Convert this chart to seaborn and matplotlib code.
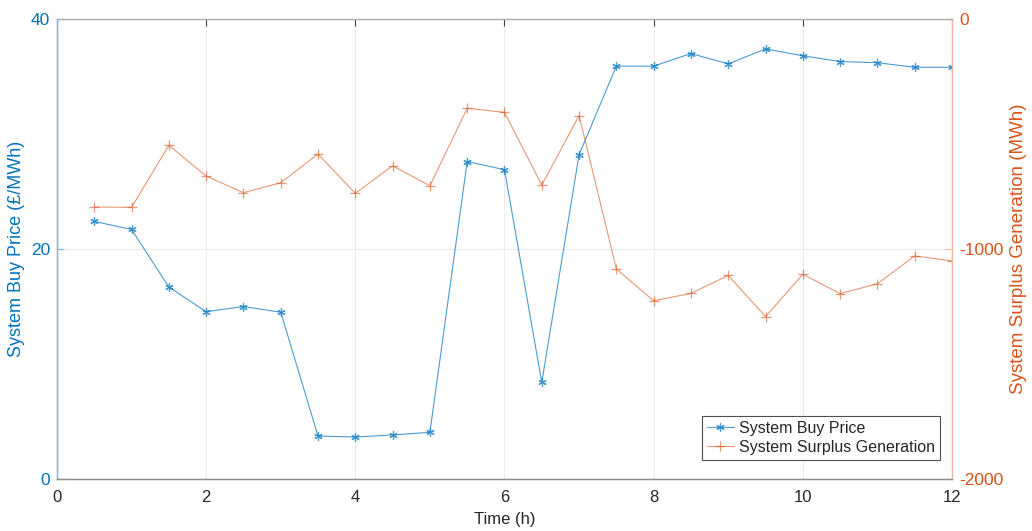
import numpy as np
import pandas as pd
import seaborn as sns
import matplotlib.pyplot as plt

sns.set_style("white")
plt.rcParams['font.family'] = ['Liberation Sans', 'DejaVu Sans']
plt.rcParams['axes.unicode_minus'] = False

# data
time_h = [0.5, 1, 1.5, 2, 2.5, 3, 3.5, 4, 4.5, 5, 5.5, 6,
          6.5, 7, 7.5, 8, 8.5, 9, 9.5, 10, 10.5, 11, 11.5, 12]
buy_price = [22.4, 21.7, 16.7, 14.55, 15.0, 14.5, 3.74, 3.65, 3.83, 4.06, 27.6, 26.9,
             8.4, 28.2, 35.9, 35.9, 37.0, 36.1, 37.4, 36.8, 36.3, 36.2, 35.8, 35.8]
surplus = [-817, -819, -549, -683, -755, -712, -587, -758, -638, -725, -388, -406,
           -722, -420, -1087, -1225, -1193, -1115, -1294, -1110, -1194, -1151, -1030, -1052]

df = pd.DataFrame({'Time': time_h, 'Price': buy_price, 'Surplus': surplus})

blue = '#0072BD'
orange = '#D95319'
grey = '#262626'

fig = plt.figure(figsize=(10.32, 5.31), dpi=100)
ax = fig.add_axes([0.0552, 0.0979, 0.8673, 0.8663])
ax2 = ax.twinx()

asterisk = (6, 2, 0)
sns.lineplot(data=df, x='Time', y='Price', ax=ax, color=blue, marker=asterisk,
             markersize=6, markeredgecolor=blue, markeredgewidth=0.9, linewidth=0.8,
             alpha=0.7, label='System Buy Price', legend=False)
sns.lineplot(data=df, x='Time', y='Surplus', ax=ax2, color=orange, marker='+',
             markersize=7, markeredgecolor=orange, markeredgewidth=0.9, linewidth=0.8,
             alpha=0.6, label='System Surplus Generation', legend=False)

ax.set_xlim(0, 12)
ax.set_ylim(0, 40)
ax2.set_ylim(-2000, 0)
ax.set_xticks(range(0, 13, 2))
ax.set_yticks([0, 20, 40])
ax2.set_yticks([-2000, -1000, 0])

ax.grid(True, color='#ebebeb', linewidth=0.8)
ax.set_axisbelow(True)

ax.set_xlabel('Time (h)', fontsize=12, color=grey, labelpad=5)
ax.set_ylabel('System Buy Price (£/MWh)', fontsize=13, color=blue, labelpad=4)
ax2.set_ylabel('System Surplus Generation (MWh)', fontsize=13.5, color=orange, labelpad=5)

ax.tick_params(axis='x', direction='in', length=5, colors='#404040', labelcolor=grey,
               labelsize=12, top=True, pad=8)
ax.tick_params(axis='y', direction='in', length=5, colors='#7fb3dc', labelcolor=blue,
               labelsize=12.5, pad=5)
ax2.tick_params(axis='y', direction='in', length=5, colors='#f0b89e', labelcolor=orange,
                labelsize=12.5, pad=5)

for a in (ax, ax2):
    a.spines['top'].set_color('#b0b0b0')
    a.spines['bottom'].set_color('#8c8c8c')
    a.spines['left'].set_color('#7fb3dc')
    a.spines['right'].set_color('#f0b89e')
    for s in a.spines.values():
        s.set_linewidth(0.9)

h1, l1 = ax.get_legend_handles_labels()
h2, l2 = ax2.get_legend_handles_labels()
leg = ax2.legend(h1 + h2, l1 + l2, loc='lower right', fontsize=11.5,
                 bbox_to_anchor=(0.995, 0.025), frameon=True, fancybox=False,
                 edgecolor='#505050', framealpha=1, handlelength=1.7,
                 borderpad=0.3, labelspacing=0.25, handletextpad=0.3)
leg.get_frame().set_linewidth(0.8)

fig.savefig('out.png', dpi=100)
